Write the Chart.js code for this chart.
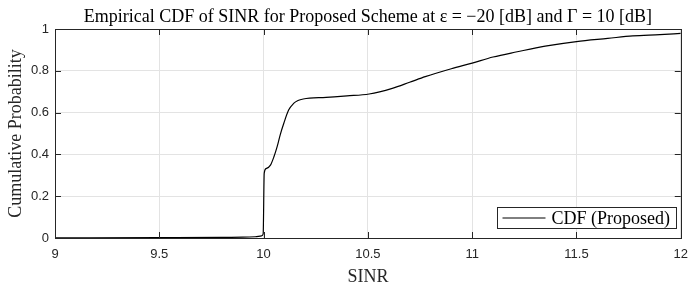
<!DOCTYPE html>
<html>
<head>
<meta charset="utf-8">
<script src="https://cdn.jsdelivr.net/npm/chart.js@4.4.0/dist/chart.umd.min.js"></script>
<style>
  html, body { margin: 0; padding: 0; background: #fff; }
  #wrap { width: 697px; height: 286px; }
</style>
</head>
<body>
<div id="wrap"><canvas id="cdf"></canvas></div>
<script>
// SINR sample points and empirical CDF
var sinr = [9, 9.5, 9.8, 9.9, 9.96, 9.99, 9.998, 10.003, 10.012, 10.033, 10.05, 10.065, 10.08, 10.097,
  10.12, 10.144, 10.165, 10.19, 10.3, 10.4, 10.506, 10.617, 10.7, 10.775, 10.9, 11.0, 11.1, 11.216,
  11.35, 11.5, 11.65, 11.77, 11.9, 12];
var cdf = [0.001, 0.002, 0.003, 0.004, 0.006, 0.01, 0.02, 0.31, 0.332, 0.349, 0.39, 0.437, 0.495, 0.549,
  0.612, 0.644, 0.658, 0.665, 0.673, 0.68, 0.689, 0.716, 0.745, 0.772, 0.81, 0.837, 0.866, 0.891,
  0.918, 0.94, 0.955, 0.967, 0.973, 0.979];
var xTicks = [9, 9.5, 10, 10.5, 11, 11.5, 12];
var yTicks = [0, 0.2, 0.4, 0.6, 0.8, 1];
var seriesName = 'CDF (Proposed)';

var serif = '"Liberation Serif", "DejaVu Serif", serif';
var sans = '"Liberation Sans", Arial, sans-serif';

var pts = [];
for (var i = 0; i < sinr.length; i++) pts.push({x: sinr[i], y: cdf[i]});

// box, inward tick marks and legend like a matlab axes
var boxPlugin = {
  id: 'box',
  afterDatasetsDraw: function(chart) {
    var ctx = chart.ctx, a = chart.chartArea;
    var xs = chart.scales.x, ys = chart.scales.y;
    ctx.save();
    ctx.strokeStyle = '#262626';
    ctx.lineWidth = 1;
    ctx.beginPath();
    for (var i = 0; i < xTicks.length; i++) {
      var px = Math.round(xs.getPixelForValue(xTicks[i])) + 0.5;
      ctx.moveTo(px, a.bottom); ctx.lineTo(px, a.bottom - 6);
      ctx.moveTo(px, a.top); ctx.lineTo(px, a.top + 6);
    }
    for (var j = 0; j < yTicks.length; j++) {
      var py = Math.round(ys.getPixelForValue(yTicks[j])) + 0.5;
      ctx.moveTo(a.left, py); ctx.lineTo(a.left + 6, py);
      ctx.moveTo(a.right, py); ctx.lineTo(a.right - 6, py);
    }
    ctx.stroke();
    ctx.strokeRect(Math.round(a.left) + 0.5, Math.round(a.top) + 0.5,
      Math.round(a.right - a.left), Math.round(a.bottom - a.top));

    // legend
    var lx = 497.5, ly = 207.5, lw = 179, lh = 21;
    ctx.fillStyle = '#fff';
    ctx.fillRect(lx, ly, lw, lh);
    ctx.strokeStyle = '#262626';
    ctx.strokeRect(lx, ly, lw, lh);
    ctx.strokeStyle = '#000';
    ctx.beginPath();
    ctx.moveTo(lx + 5, ly + lh / 2); ctx.lineTo(lx + 48, ly + lh / 2);
    ctx.stroke();
    ctx.fillStyle = '#000';
    ctx.font = '18px ' + serif;
    ctx.textBaseline = 'middle';
    ctx.textAlign = 'left';
    ctx.fillText(seriesName, lx + 54, ly + lh / 2 + 1);
    ctx.restore();
  }
};

new Chart(document.getElementById('cdf'), {
  type: 'line',
  data: {
    datasets: [{
      label: seriesName,
      data: pts,
      borderColor: '#000',
      borderWidth: 1.2,
      pointRadius: 0,
      fill: false,
      cubicInterpolationMode: 'monotone'
    }]
  },
  options: {
    responsive: true,
    maintainAspectRatio: false,
    animation: false,
    layout: { padding: { left: 0, right: 8, top: 0, bottom: 0 } },
    plugins: {
      legend: { display: false },
      tooltip: { enabled: false },
      title: {
        display: true,
        fullSize: false,
        text: 'Empirical CDF of SINR for Proposed Scheme at ε = −20 [dB] and Γ = 10 [dB]',
        color: '#000',
        font: { family: serif, size: 18, weight: 'normal' },
        padding: { top: 6, bottom: 1.4 }
      }
    },
    scales: {
      x: {
        type: 'linear',
        min: 9, max: 12,
        afterBuildTicks: function(s) { s.ticks = xTicks.map(function(v) { return {value: v}; }); },
        afterFit: function(s) { s.height = 48; },
        grid: { color: '#e3e3e3', drawTicks: false },
        border: { display: false },
        ticks: { color: '#262626', padding: 9, font: { family: sans, size: 13 },
          callback: function(v) { return String(v); } },
        title: { display: true, text: 'SINR', color: '#262626',
          font: { family: serif, size: 18 }, padding: { top: 0, bottom: -2 } }
      },
      y: {
        type: 'linear',
        min: 0, max: 1,
        afterBuildTicks: function(s) { s.ticks = yTicks.map(function(v) { return {value: v}; }); },
        afterFit: function(s) { s.width = 55; },
        grid: { color: '#e3e3e3', drawTicks: false },
        border: { display: false },
        ticks: { color: '#262626', padding: 6, font: { family: sans, size: 13 },
          callback: function(v) { return String(v); } },
        title: { display: true, text: 'Cumulative Probability', color: '#262626',
          font: { family: serif, size: 18 }, padding: { top: 5, bottom: 0 } }
      }
    }
  },
  plugins: [boxPlugin]
});
</script>
</body>
</html>
